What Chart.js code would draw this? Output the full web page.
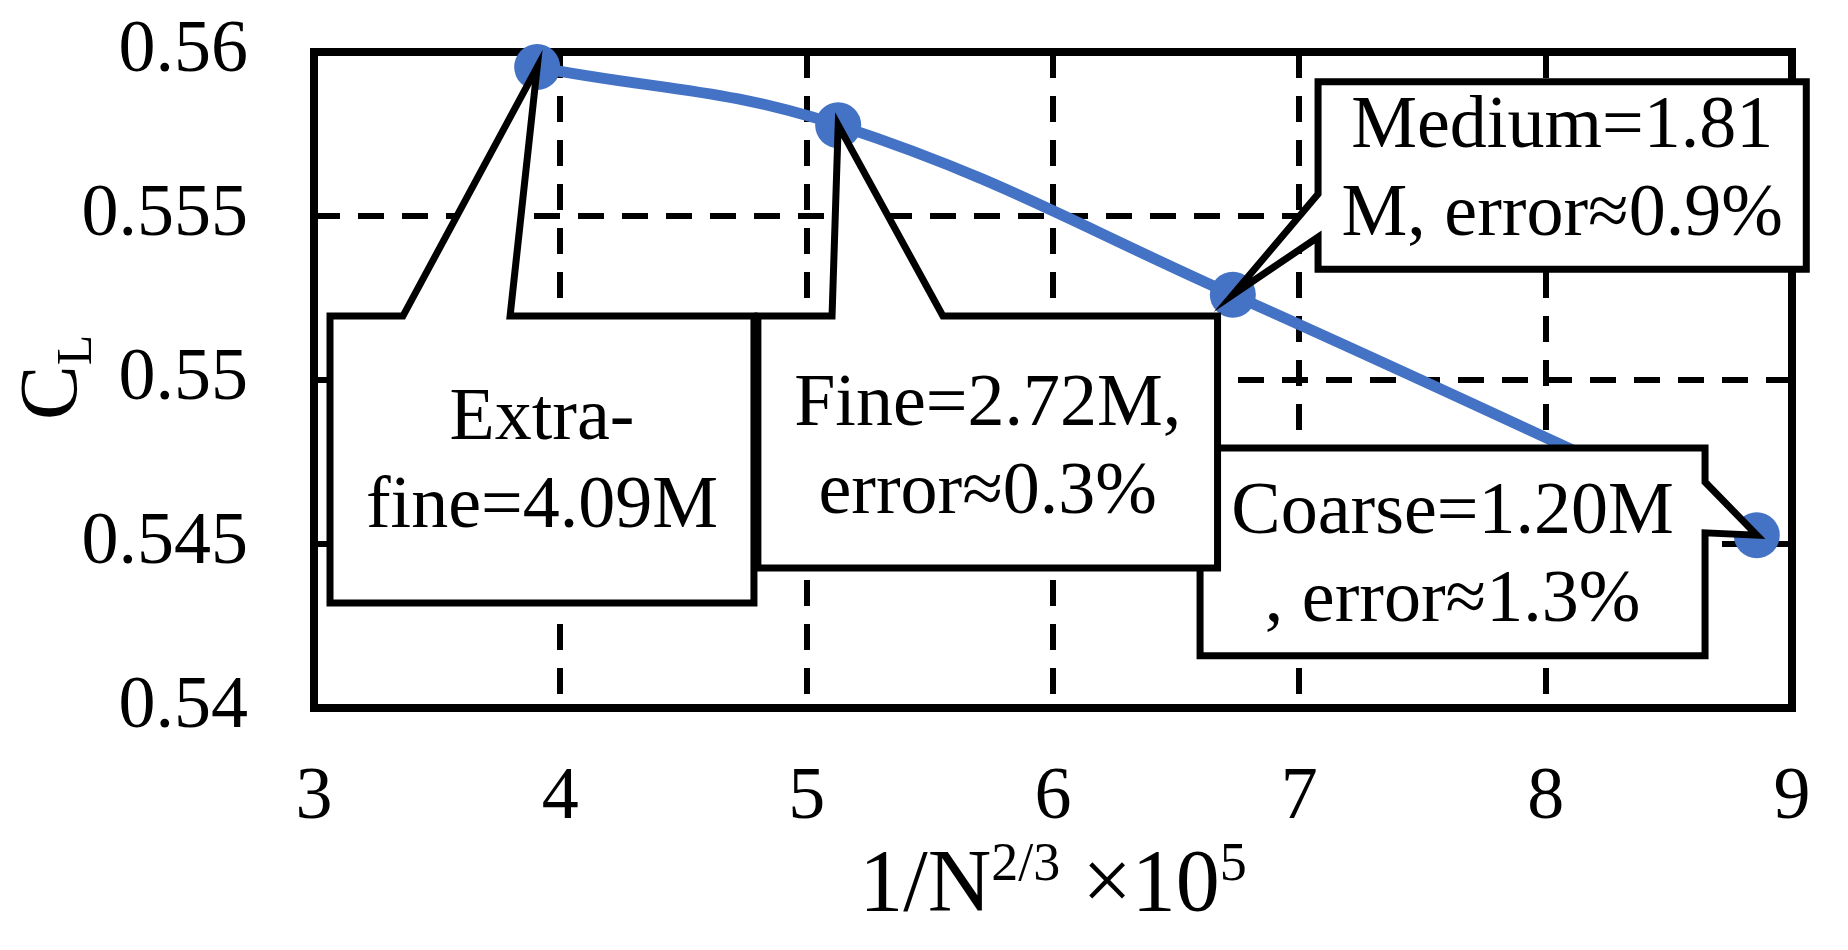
<!DOCTYPE html>
<html>
<head>
<meta charset="utf-8">
<title>CL grid convergence</title>
<script src="https://cdn.jsdelivr.net/npm/chart.js@4/dist/chart.umd.min.js"></script>
<style>
  html, body { margin: 0; padding: 0; background: #fff; }
  #wrap { width: 1848px; height: 950px; }
</style>
</head>
<body>
<div id="wrap"><canvas id="chart" width="1848" height="950"></canvas></div>
<script>
// ===== DATA =====
const meshNames = ['Extra-fine', 'Fine', 'Medium', 'Coarse'];
const xValues = [3.906, 5.128, 6.73, 8.857];          // 1/N^(2/3) x 1e5
const clValues = [0.55954, 0.55777, 0.5526, 0.54527];  // lift coefficient
const xTicks = [3, 4, 5, 6, 7, 8, 9];
const yTicks = [0.54, 0.545, 0.55, 0.555, 0.56];
const calloutLines = [
  ['Extra-', 'fine=4.09M'],
  ['Fine=2.72M,', 'error\u22480.3%'],
  ['Medium=1.81', 'M, error\u22480.9%'],
  [ 'Coarse=1.20M', ', error\u22481.3%']
];

const FONT = '"Liberation Serif", "Times New Roman", serif';
const BLUE = '#4472C4';

// callout boxes, in axis units (x from/to, y top/bottom) + where the pointer leaves the box
const callouts = [
  { i: 0, box: [3.065, 4.786, 0.55195, 0.5432], side: 'top', base: [3.361, 3.796], dy: 4 },
  { i: 3, box: [6.597, 8.647, 0.54793, 0.54159], side: 'right', base: [0.54689, 0.54534], dy: 6 },
  { i: 1, box: [4.802, 6.668, 0.55195, 0.54427], side: 'top', base: [5.103, 5.553], dy: 8 },
  { i: 2, box: [7.076, 9.058, 0.55909, 0.55338], side: 'left', base: [0.55567, 0.55436], dy: -4 }
];

const isEdge = (v, arr) => Math.abs(v - arr[0]) < 1e-9 || Math.abs(v - arr[arr.length - 1]) < 1e-9;

// plot frame drawn under the line, like the Excel chart
const framePlugin = {
  id: 'frame',
  beforeDatasetsDraw(chart) {
    const { ctx, chartArea: a } = chart;
    ctx.save();
    ctx.lineWidth = 8;
    ctx.strokeStyle = '#000';
    ctx.lineJoin = 'miter';
    ctx.strokeRect(a.left, a.top, a.right - a.left, a.bottom - a.top);
    ctx.restore();
  }
};

const calloutPlugin = {
  id: 'callouts',
  afterDatasetsDraw(chart) {
    const { ctx, scales: { x, y } } = chart;
    const pts = chart.getDatasetMeta(0).data;
    callouts.forEach(c => {
      const L = x.getPixelForValue(c.box[0]), R = x.getPixelForValue(c.box[1]);
      const T = y.getPixelForValue(c.box[2]), B = y.getPixelForValue(c.box[3]);
      const tip = pts[c.i];
      ctx.save();
      ctx.beginPath();
      if (c.side === 'top') {
        const a = x.getPixelForValue(c.base[0]), b = x.getPixelForValue(c.base[1]);
        ctx.moveTo(L, T); ctx.lineTo(a, T); ctx.lineTo(tip.x, tip.y); ctx.lineTo(b, T);
        ctx.lineTo(R, T); ctx.lineTo(R, B); ctx.lineTo(L, B);
      } else if (c.side === 'left') {
        const a = y.getPixelForValue(c.base[0]), b = y.getPixelForValue(c.base[1]);
        ctx.moveTo(L, T); ctx.lineTo(R, T); ctx.lineTo(R, B); ctx.lineTo(L, B);
        ctx.lineTo(L, b); ctx.lineTo(tip.x, tip.y); ctx.lineTo(L, a);
      } else {
        const a = y.getPixelForValue(c.base[0]), b = y.getPixelForValue(c.base[1]);
        ctx.moveTo(L, T); ctx.lineTo(R, T); ctx.lineTo(R, a); ctx.lineTo(tip.x, tip.y);
        ctx.lineTo(R, b); ctx.lineTo(R, B); ctx.lineTo(L, B);
      }
      ctx.closePath();
      ctx.fillStyle = '#fff';
      ctx.fill();
      ctx.lineWidth = 7;
      ctx.lineJoin = 'miter';
      ctx.strokeStyle = '#000';
      ctx.stroke();

      const lines = calloutLines[c.i];
      const cx = (L + R) / 2, cy = (T + B) / 2 + c.dy;
      const lh = 88;
      ctx.fillStyle = '#000';
      ctx.font = '74px ' + FONT;
      ctx.textAlign = 'center';
      ctx.textBaseline = 'middle';
      lines.forEach((t, k) => ctx.fillText(t, cx, cy + (k - (lines.length - 1) / 2) * lh));
      ctx.restore();
    });
  }
};

// axis titles with sub/superscripts
const titlePlugin = {
  id: 'axisTitles',
  afterDraw(chart) {
    const { ctx, chartArea: a } = chart;
    ctx.save();
    ctx.fillStyle = '#000';
    ctx.textBaseline = 'alphabetic';
    ctx.textAlign = 'left';

    // y: C_L, rotated
    ctx.save();
    ctx.translate(76, 420);
    ctx.rotate(-Math.PI / 2);
    ctx.font = '82px ' + FONT;
    ctx.fillText('C', 0, 0);
    const wC = ctx.measureText('C').width;
    ctx.font = '50px ' + FONT;
    ctx.fillText('L', wC, 15);
    ctx.restore();

    // x: 1/N^(2/3) x10^5
    const parts = [
      { t: '1/N', big: true },
      { t: '2/3', big: false },
      { t: ' \u00d710', big: true },
      { t: '5', big: false }
    ];
    const fBig = '88px ' + FONT, fSmall = '54px ' + FONT;
    let total = 0;
    parts.forEach(p => { ctx.font = p.big ? fBig : fSmall; p.w = ctx.measureText(p.t).width; total += p.w; });
    let px = (a.left + a.right) / 2 - total / 2;
    const base = 910;
    parts.forEach(p => {
      ctx.font = p.big ? fBig : fSmall;
      ctx.fillText(p.t, px, p.big ? base : base - 30);
      px += p.w;
    });
    ctx.restore();
  }
};

const points = xValues.map((v, k) => ({ x: v, y: clValues[k] }));

new Chart(document.getElementById('chart').getContext('2d'), {
  type: 'line',
  data: {
    datasets: [{
      label: 'CL',
      data: points,
      borderColor: BLUE,
      borderWidth: 11,
      backgroundColor: BLUE,
      pointBackgroundColor: BLUE,
      pointBorderWidth: 0,
      pointRadius: 23,
      tension: 0.4,
      clip: false,
      fill: false
    }]
  },
  options: {
    responsive: false,
    animation: false,
    devicePixelRatio: 1,
    layout: { padding: { left: 0, top: 52, right: 56, bottom: 0 } },
    plugins: { legend: { display: false }, tooltip: { enabled: false } },
    scales: {
      x: {
        type: 'linear',
        min: xTicks[0],
        max: xTicks[xTicks.length - 1],
        afterBuildTicks: s => { s.ticks = xTicks.map(v => ({ value: v })); },
        afterFit: s => { s.height = 242; s.paddingLeft = 0; s.paddingRight = 0; },
        ticks: {
          color: '#000',
          font: { family: FONT, size: 74 },
          padding: 46,
          maxRotation: 0,
          callback: v => String(v)
        },
        grid: {
          drawTicks: false,
          lineWidth: 6,
          color: c => (c.tick && isEdge(c.tick.value, xTicks)) ? 'rgba(0,0,0,0)' : '#000'
        },
        border: { display: false, dash: [26, 18] }
      },
      y: {
        type: 'linear',
        min: yTicks[0],
        max: yTicks[yTicks.length - 1],
        afterBuildTicks: s => { s.ticks = yTicks.map(v => ({ value: v })); },
        afterFit: s => { s.width = 314; s.paddingTop = 0; s.paddingBottom = 0; },
        ticks: {
          color: '#000',
          font: { family: FONT, size: 74 },
          padding: 66,
          callback: v => String(+(+v).toFixed(3))
        },
        grid: {
          drawTicks: false,
          lineWidth: 6,
          color: c => (c.tick && isEdge(c.tick.value, yTicks)) ? 'rgba(0,0,0,0)' : '#000'
        },
        border: { display: false, dash: [26, 18] }
      }
    }
  },
  plugins: [framePlugin, calloutPlugin, titlePlugin]
});
</script>
</body>
</html>
